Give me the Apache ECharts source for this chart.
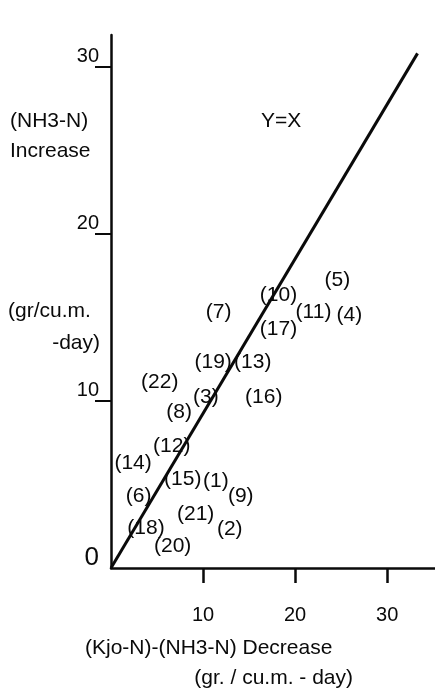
<!DOCTYPE html>
<html>
<head>
<meta charset="utf-8">
<script src="https://cdn.jsdelivr.net/npm/echarts@6/dist/echarts.min.js"></script>
<style>
  html, body { margin: 0; padding: 0; background: #fff; }
  #chart { width: 435px; height: 698px; }
</style>
</head>
<body>
<div id="chart"></div>
<script>
// sample numbers shown as "(n)" labels, with x = decrease, y = increase
const sampleIds = [5, 10, 7, 11, 4, 17, 19, 13, 22, 3, 16, 8, 12, 14, 15, 1, 9, 6, 21, 18, 2, 20]
const decreaseX = [24.6, 18.2, 11.7, 22.0, 25.9, 18.2, 11.1, 15.4, 5.3, 10.3, 16.6, 7.4, 6.6, 2.4, 7.8, 11.4, 14.1, 3.0, 9.2, 3.8, 12.9, 6.7]
const increaseY = [17.2, 16.3, 15.3, 15.3, 15.1, 14.3, 12.3, 12.3, 11.1, 10.2, 10.2, 9.3, 7.3, 6.3, 5.3, 5.2, 4.3, 4.3, 3.2, 2.4, 2.3, 1.3]
// reference line as drawn in the figure
const refLineX = [0, 33.3]
const refLineY = [0, 30.8]
const xTicks = [10, 20, 30]
const yTicks = [10, 20, 30]
const yLabels = [0, 10, 20, 30]

const font = 'Liberation Sans, Arial, sans-serif'
const ink = '#0a0a0a'

const chart = echarts.init(document.getElementById('chart'))

const points = sampleIds.map((id, i) => [decreaseX[i], increaseY[i], id])
const refLine = refLineX.map((x, i) => [x, refLineY[i]])

chart.setOption({
  backgroundColor: '#fff',
  animation: false,
  grid: { left: 111, right: 0, top: 35, bottom: 130 },
  xAxis: {
    type: 'value',
    min: 0,
    max: 35.2,
    splitLine: { show: false },
    axisLine: { lineStyle: { color: ink, width: 2.5 } },
    axisTick: {
      customValues: xTicks,
      length: 15,
      lineStyle: { color: ink, width: 2.5 }
    },
    axisLabel: {
      customValues: xTicks,
      margin: 37,
      fontFamily: font,
      fontSize: 20,
      color: ink
    }
  },
  yAxis: {
    type: 'value',
    min: 0,
    max: 31.9,
    splitLine: { show: false },
    axisLine: { lineStyle: { color: ink, width: 2.5 } },
    axisTick: {
      customValues: yTicks,
      length: 16,
      lineStyle: { color: ink, width: 2 }
    },
    axisLabel: {
      customValues: yLabels,
      margin: 12,
      verticalAlign: 'bottom',
      fontFamily: font,
      fontSize: 20,
      color: ink,
      formatter: v => (v === 0 ? '{big|0}' : String(v)),
      rich: { big: { fontSize: 26, fontFamily: font, color: ink, padding: [0, 0, -3, 0] } }
    }
  },
  graphic: [
    { type: 'text', left: 10, top: 111, style: { text: '(NH3-N)', font: '21px ' + font, fill: ink } },
    { type: 'text', left: 10, top: 141, style: { text: 'Increase', font: '21px ' + font, fill: ink } },
    { type: 'text', left: 8, top: 301, style: { text: '(gr/cu.m.', font: '21px ' + font, fill: ink } },
    { type: 'text', right: 335, top: 333, style: { text: '-day)', font: '21px ' + font, fill: ink } },
    { type: 'text', left: 261, top: 111, style: { text: 'Y=X', font: '21px ' + font, fill: ink } },
    { type: 'text', left: 85, top: 638, style: { text: '(Kjo-N)-(NH3-N) Decrease', font: '21px ' + font, fill: ink } },
    { type: 'text', right: 82, top: 668, style: { text: '(gr. / cu.m. - day)', font: '21px ' + font, fill: ink } }
  ],
  series: [
    {
      type: 'line',
      data: refLine,
      symbol: 'none',
      lineStyle: { color: ink, width: 3 },
      z: 2
    },
    {
      type: 'scatter',
      data: points,
      symbolSize: 0,
      itemStyle: { opacity: 1 },
      label: {
        show: true,
        position: 'inside',
        formatter: p => '(' + p.data[2] + ')',
        fontFamily: font,
        fontSize: 21,
        color: ink,
        opacity: 1
      },
      z: 3
    }
  ]
})
</script>
</body>
</html>
